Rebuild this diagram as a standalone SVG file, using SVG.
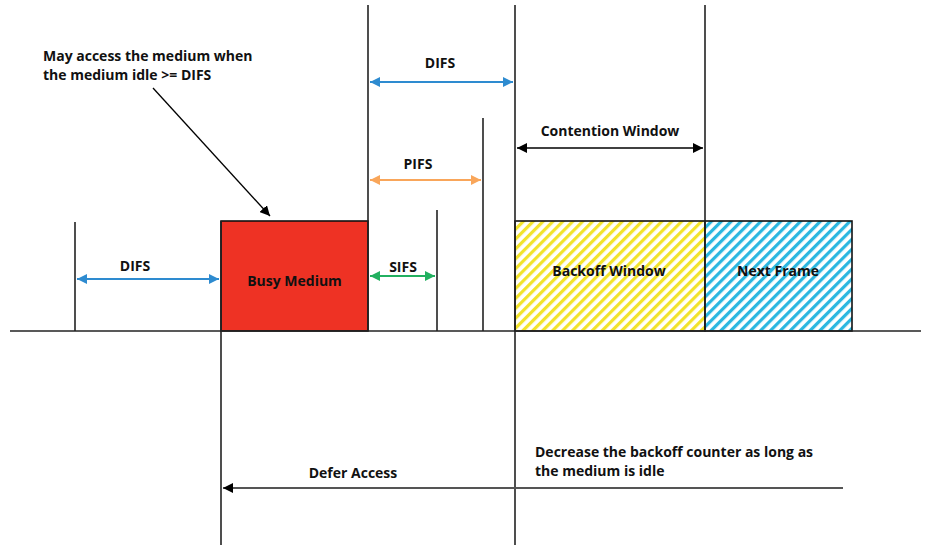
<svg xmlns="http://www.w3.org/2000/svg" width="926" height="545" viewBox="0 0 926 545">
<style>
text{font-family:"Open Sans","Liberation Sans",sans-serif;font-weight:bold;font-size:14px;fill:#111}
.c{text-anchor:middle}
.v{stroke:#222;stroke-width:1.6;fill:none}
</style>
<defs>
<marker id="ab" viewBox="0 0 10 10" refX="10" refY="5" markerWidth="10" markerHeight="10" markerUnits="userSpaceOnUse" orient="auto-start-reverse"><path d="M0,0L10,5L0,10z" fill="#2E8BD0"/></marker>
<marker id="ao" viewBox="0 0 10 10" refX="10" refY="5" markerWidth="10" markerHeight="10" markerUnits="userSpaceOnUse" orient="auto-start-reverse"><path d="M0,0L10,5L0,10z" fill="#F9A65A"/></marker>
<marker id="ag" viewBox="0 0 10 10" refX="10" refY="5" markerWidth="10" markerHeight="10" markerUnits="userSpaceOnUse" orient="auto-start-reverse"><path d="M0,0L10,5L0,10z" fill="#22B060"/></marker>
<marker id="ak" viewBox="0 0 10 10" refX="10" refY="5" markerWidth="10" markerHeight="10" markerUnits="userSpaceOnUse" orient="auto-start-reverse"><path d="M0,0L10,5L0,10z" fill="#000"/></marker>
<pattern id="hy" width="7" height="7" patternUnits="userSpaceOnUse" patternTransform="rotate(45)"><rect width="7" height="7" fill="#fff"/><rect width="3.2" height="7" fill="#F2E32B"/></pattern>
<pattern id="hc" width="7" height="7" patternUnits="userSpaceOnUse" patternTransform="rotate(45)"><rect width="7" height="7" fill="#fff"/><rect width="3.2" height="7" fill="#2BB7E0"/></pattern>
</defs>

<g id="busy">
<rect x="221" y="221" width="147" height="110" fill="#EE3224" stroke="#111" stroke-width="1.6"/>
<text class="c" x="294.5" y="286">Busy Medium</text>
</g>
<g id="backoff">
<rect x="515" y="221" width="190" height="110" fill="url(#hy)" stroke="#111" stroke-width="1.6"/>
<text class="c" x="609" y="276">Backoff Window</text>
</g>
<g id="next">
<rect x="705" y="221" width="147" height="110" fill="url(#hc)" stroke="#111" stroke-width="1.6"/>
<text class="c" x="778" y="276">Next Frame</text>
</g>

<g id="lines">
<line class="v" x1="10" y1="331" x2="921" y2="331" stroke-width="2.4"/>
<line class="v" x1="75" y1="222" x2="75" y2="331"/>
<line class="v" x1="221" y1="221" x2="221" y2="545"/>
<line class="v" x1="368" y1="5" x2="368" y2="331"/>
<line class="v" x1="437" y1="210" x2="437" y2="331"/>
<line class="v" x1="483" y1="118" x2="483" y2="331"/>
<line class="v" x1="515" y1="5" x2="515" y2="545"/>
<line class="v" x1="705" y1="5" x2="705" y2="331"/>
</g>

<g id="connectors">
<line x1="77" y1="279" x2="219" y2="279" stroke="#2E8BD0" stroke-width="2" marker-start="url(#ab)" marker-end="url(#ab)"/>
<line x1="370" y1="82" x2="513" y2="82" stroke="#2E8BD0" stroke-width="2" marker-start="url(#ab)" marker-end="url(#ab)"/>
<line x1="370" y1="180" x2="481" y2="180" stroke="#F9A65A" stroke-width="2" marker-start="url(#ao)" marker-end="url(#ao)"/>
<line x1="370" y1="276" x2="435" y2="276" stroke="#22B060" stroke-width="2" marker-start="url(#ag)" marker-end="url(#ag)"/>
<line x1="517" y1="148" x2="703" y2="148" stroke="#000" stroke-width="1.6" marker-start="url(#ak)" marker-end="url(#ak)"/>
<line x1="843" y1="488" x2="223" y2="488" stroke="#555" stroke-width="2" marker-end="url(#ak)"/>
<line x1="153" y1="88" x2="270" y2="216" stroke="#000" stroke-width="1.3" marker-end="url(#ak)"/>
</g>

<g id="labels">
<text x="43" y="61">May access the medium when</text>
<text x="43" y="80">the medium idle &gt;= DIFS</text>
<text class="c" x="135" y="271">DIFS</text>
<text class="c" x="440" y="68">DIFS</text>
<text class="c" x="418" y="169">PIFS</text>
<text class="c" x="403" y="272">SIFS</text>
<text class="c" x="610" y="136">Contention Window</text>
<text class="c" x="353" y="478">Defer Access</text>
<text x="535" y="457">Decrease the backoff counter as long as</text>
<text x="535" y="476">the medium is idle</text>
</g>
</svg>
